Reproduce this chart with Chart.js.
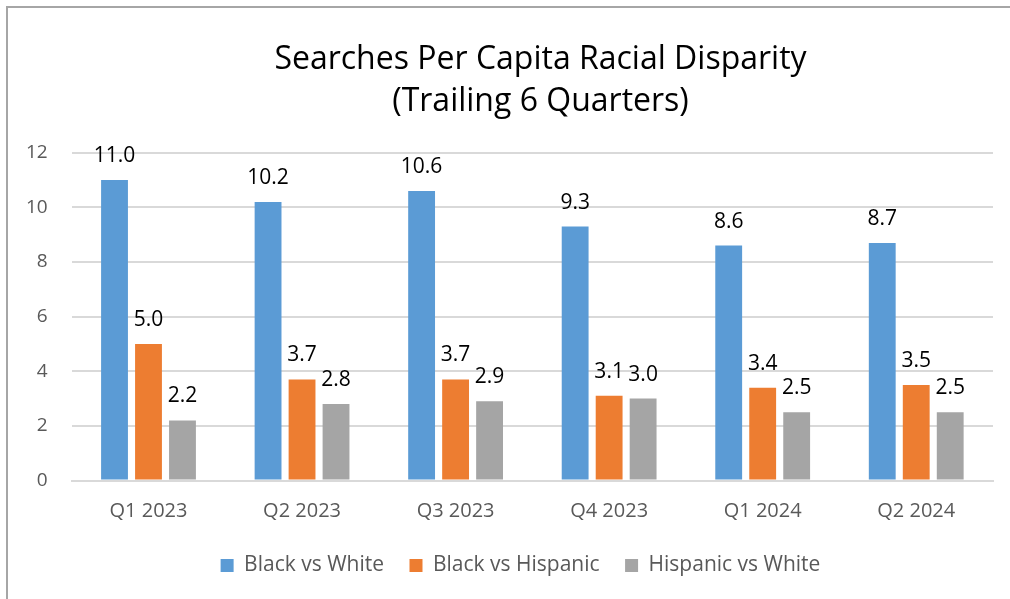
<!DOCTYPE html>
<html>
<head>
<meta charset="utf-8">
<script src="https://cdn.jsdelivr.net/npm/chart.js@4"></script>
<style>
  html, body { margin: 0; padding: 0; background: #fff; }
  #wrap { width: 1010px; height: 599px; position: relative; }
</style>
</head>
<body>
<div id="wrap"><canvas id="barchart"></canvas></div>
<script>
var quarters = ["Q1 2023", "Q2 2023", "Q3 2023", "Q4 2023", "Q1 2024", "Q2 2024"];
var blackVsWhite = [11.0, 10.2, 10.6, 9.3, 8.6, 8.7];
var blackVsHispanic = [5.0, 3.7, 3.7, 3.1, 3.4, 3.5];
var hispanicVsWhite = [2.2, 2.8, 2.9, 3.0, 2.5, 2.5];
var yTicks = [0, 2, 4, 6, 8, 10, 12];

var FONT = "'Open Sans', sans-serif";

/*  frame lines (left / top) */
var framePlugin = {
	id: 'frame',
	beforeDraw: function (chart) {
		var c = chart.ctx;
		c.save();
		c.strokeStyle = '#a6a6a6';
		c.lineWidth = 2;
		c.beginPath();
		c.moveTo(7, chart.height);
		c.lineTo(7, 7);
		c.lineTo(chart.width, 7);
		c.stroke();
		c.restore();
	}
};

/*  title and legend sit a bit right of the canvas centre (cropped frame) */
var nudgeBlocks = {
	id: 'nudgeBlocks',
	afterLayout: function (chart) {
		var t = chart.titleBlock;
		t.left += 86;
		var lg = chart.legend;
		lg.left += 23;
		lg.right += 23;
		lg.top -= 13;
		lg.bottom -= 13;
	}
};

/*  value labels above bars */
var valueLabels = {
	id: 'valueLabels',
	afterDatasetsDraw: function (chart) {
		var c = chart.ctx;
		c.save();
		c.font = "21px " + FONT;
		c.fillStyle = '#000';
		c.textAlign = 'center';
		c.textBaseline = 'alphabetic';
		chart.data.datasets.forEach(function (ds, i) {
			var meta = chart.getDatasetMeta(i);
			meta.data.forEach(function (el, j) {
				c.fillText(ds.data[j].toFixed(1), el.x, el.y - 18);
			});
		});
		c.restore();
	}
};

var ctx = document.getElementById("barchart");
var barchart = new Chart(ctx, {
	type: 'bar',
	data: {
		labels: quarters,
		datasets: [{
			label: 'Black vs White',
			data: blackVsWhite,
			backgroundColor: '#5B9BD5'
		}, {
			label: 'Black vs Hispanic',
			data: blackVsHispanic,
			backgroundColor: '#ED7D31'
		}, {
			label: 'Hispanic vs White',
			data: hispanicVsWhite,
			backgroundColor: '#A5A5A5'
		}]
	},
	options: {
		responsive: true,
		maintainAspectRatio: false,
		animation: false,
		categoryPercentage: 0.664,
		barPercentage: 0.79,
		layout: {
			padding: { left: 2, right: 17, top: 0, bottom: 0 }
		},
		plugins: {
			title: {
				display: true,
				text: ['Searches Per Capita Racial Disparity', '(Trailing 6 Quarters)'],
				color: '#000',
				font: { family: FONT, size: 32, weight: 'normal', lineHeight: 1.34 },
				padding: { top: 38, bottom: 29 }
			},
			legend: {
				position: 'bottom',
				labels: {
					boxWidth: 13,
					boxHeight: 13,
					padding: 25.5,
					color: '#595959',
					font: { family: FONT, size: 21 }
				}
			},
			tooltip: { enabled: false }
		},
		scales: {
			x: {
				grid: { display: false, drawTicks: false },
				border: { display: true, color: '#d9d9d9', width: 2 },
				ticks: {
					color: '#595959',
					padding: 19,
					font: { family: FONT, size: 20 }
				}
			},
			y: {
				min: 0,
				max: 12,
				afterBuildTicks: function (axis) {
					axis.ticks = yTicks.map(function (v) { return { value: v }; });
				},
				grid: { color: '#d9d9d9', lineWidth: 2, drawTicks: false },
				border: { display: false },
				ticks: {
					color: '#595959',
					padding: 24,
					font: { family: FONT, size: 19 }
				}
			}
		}
	},
	plugins: [framePlugin, nudgeBlocks, valueLabels]
});
</script>
</body>
</html>
